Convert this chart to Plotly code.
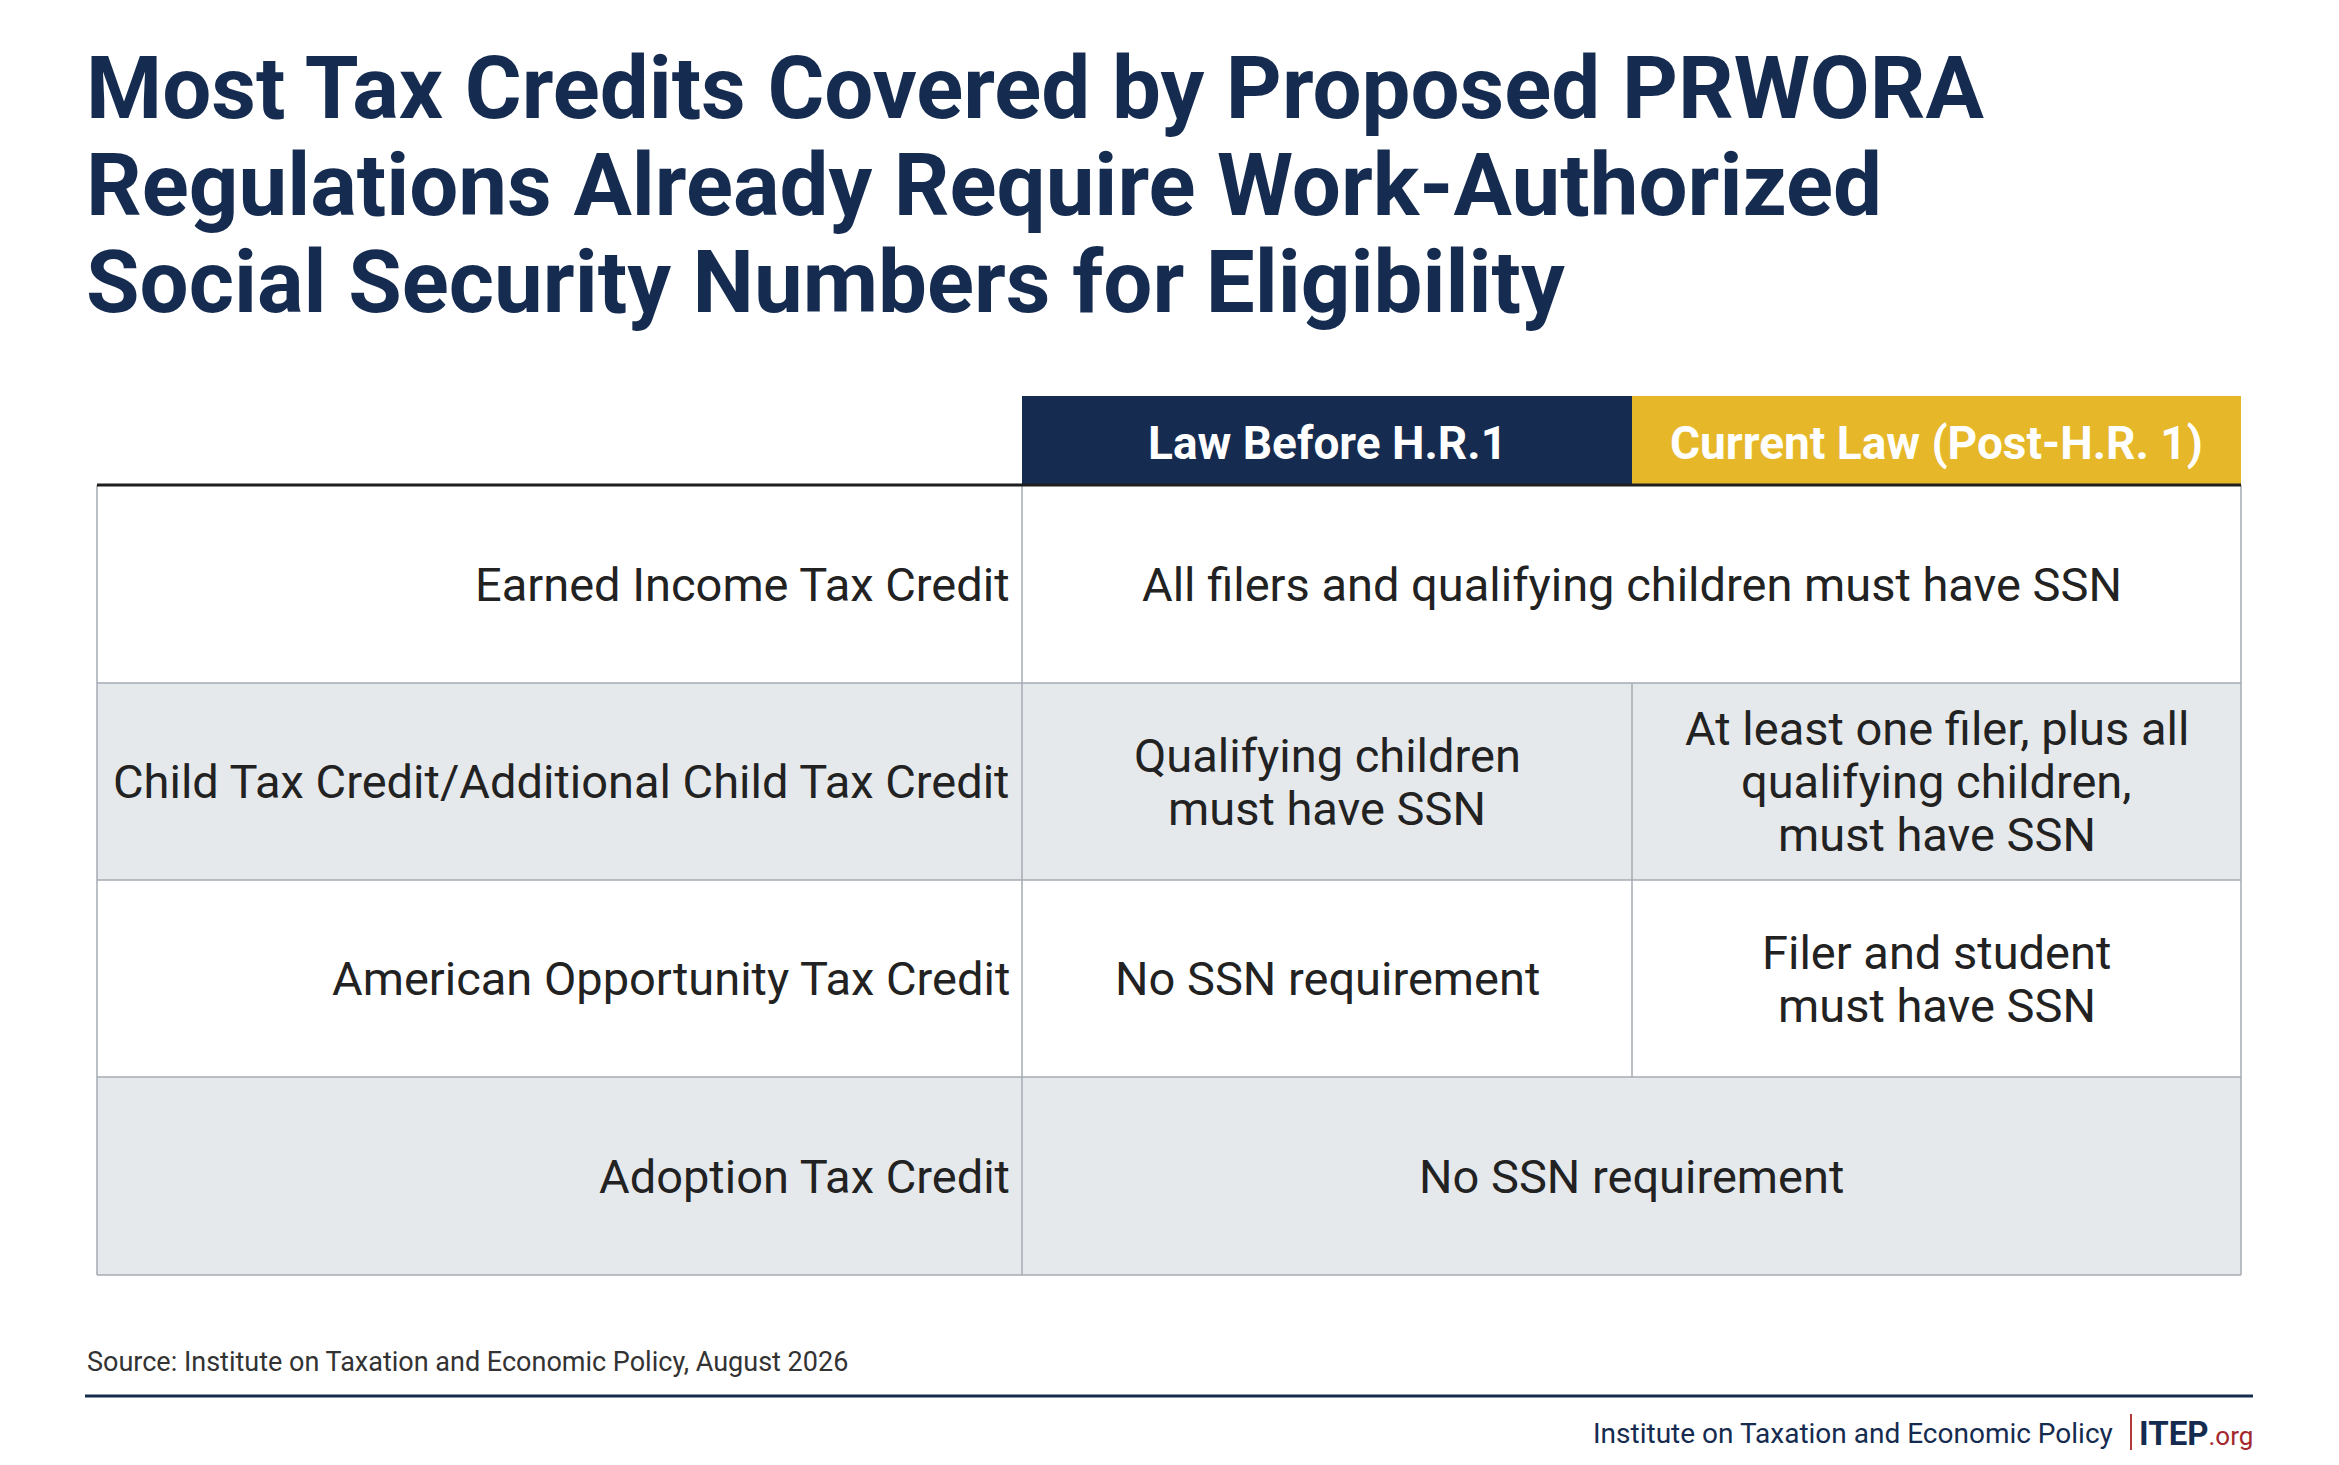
import plotly.graph_objects as go

# ---- data ----
title_lines = ["Most Tax Credits Covered by Proposed PRWORA",
               "Regulations Already Require Work-Authorized",
               "Social Security Numbers for Eligibility"]

column_headers = ["Law Before H.R.1", "Current Law (Post-H.R. 1)"]

credits = ["Earned Income Tax Credit",
           "Child Tax Credit/Additional Child Tax Credit",
           "American Opportunity Tax Credit",
           "Adoption Tax Credit"]

law_before = ["All filers and qualifying children must have SSN",
              "Qualifying children<br>must have SSN",
              "No SSN requirement",
              "No SSN requirement"]

# None means the requirement did not change (cell spans both columns)
current_law = [None,
               "At least one filer, plus all<br>qualifying children,<br>must have SSN",
               "Filer and student<br>must have SSN",
               None]

source_note = "Source: Institute on Taxation and Economic Policy, August 2026"
footer_name = "Institute on Taxation and Economic Policy"

# ---- style / geometry ----
W, H = 2339, 1465
NAVY = "#152b4f"
GOLD = "#e6b829"
GRAY_ROW = "#e6e9ec"
LINE = "#a4abb3"
TEXT = "#222222"
FONT = "Roboto"
BODY = 47
LEADING = 53

col_x = [97, 1022, 1632, 2241]
head_top, head_bot = 396, 485
row_y = [485, 683, 880, 1077, 1275]

fig = go.Figure()
shapes = []
annotations = []


def rect(x0, y0, x1, y1, fill):
    shapes.append(dict(type="rect", xref="x", yref="y", x0=x0, y0=y0, x1=x1, y1=y1,
                       fillcolor=fill, line=dict(color=fill, width=0), layer="below"))


def seg(x0, y0, x1, y1, color, width):
    shapes.append(dict(type="line", xref="x", yref="y", x0=x0, y0=y0, x1=x1, y1=y1,
                       line=dict(color=color, width=width)))


def text(x, y, s, size, color=TEXT, xanchor="center", weight=400):
    annotations.append(dict(x=x, y=y, xref="x", yref="y", text=s, showarrow=False,
                            xanchor=xanchor, yanchor="middle", align="center",
                            font=dict(family=FONT, size=size, color=color, weight=weight)))


def cell_text(x, ym, s):
    # one annotation per line so the leading matches the original
    lines = s.split("<br>")
    top = ym - (len(lines) - 1) * LEADING / 2
    for k, ln in enumerate(lines):
        text(x, top + k * LEADING, ln, BODY)


# title
for i, line in enumerate(title_lines):
    annotations.append(dict(x=84, y=88 + i * 97, xref="x", yref="y", text=line,
                            showarrow=False, xanchor="left", yanchor="middle",
                            font=dict(family=FONT, size=87, color=NAVY, weight=700)))

# header cells
rect(col_x[1], head_top, col_x[2], head_bot, NAVY)
rect(col_x[2], head_top, col_x[3], head_bot, GOLD)
for j, h in enumerate(column_headers):
    text((col_x[j + 1] + col_x[j + 2]) / 2, (head_top + head_bot) / 2 + 2, h, 46,
         color="white", weight=700)

# body rows
for i, name in enumerate(credits):
    y0, y1 = row_y[i], row_y[i + 1]
    ym = (y0 + y1) / 2
    rect(col_x[0], y0, col_x[3], y1, GRAY_ROW if i % 2 else "white")
    text(col_x[1] - 10, ym, name, BODY, xanchor="right")
    if current_law[i] is None:
        cell_text((col_x[1] + col_x[3]) / 2, ym, law_before[i])
    else:
        cell_text((col_x[1] + col_x[2]) / 2, ym, law_before[i])
        cell_text((col_x[2] + col_x[3]) / 2, ym, current_law[i])
        seg(col_x[2], y0, col_x[2], y1, LINE, 1.5)
    seg(col_x[0], y1, col_x[3], y1, LINE, 1.5)

for x in (col_x[0], col_x[1], col_x[3]):
    seg(x, row_y[0], x, row_y[-1], LINE, 1.5)

# thick rule under header
seg(col_x[0], head_bot, col_x[3], head_bot, "#1e1e1e", 3)

# source + footer
text(85, 1362, source_note, 27, color="#333333", xanchor="left")
seg(85, 1396, 2253, 1396, NAVY, 3)
text(2115, 1433, footer_name, 28, color=NAVY, xanchor="right")
seg(2131, 1414, 2131, 1450, "#b03a3a", 2)
annotations.append(dict(x=2255, y=1433, xref="x", yref="y", showarrow=False,
                        xanchor="right", yanchor="middle",
                        text="<b>ITEP</b><span style='color:#a3272c;font-size:26px'>.org</span>",
                        font=dict(family=FONT, size=33, color=NAVY)))

fig.update_layout(
    width=W, height=H,
    margin=dict(l=0, r=0, t=0, b=0),
    paper_bgcolor="white", plot_bgcolor="white",
    xaxis=dict(range=[0, W], visible=False, fixedrange=True),
    yaxis=dict(range=[H, 0], visible=False, fixedrange=True),
    shapes=shapes, annotations=annotations,
    showlegend=False,
)

fig.write_html("out.html", config={"displayModeBar": False},
               post_script="document.body.style.margin='0';")
